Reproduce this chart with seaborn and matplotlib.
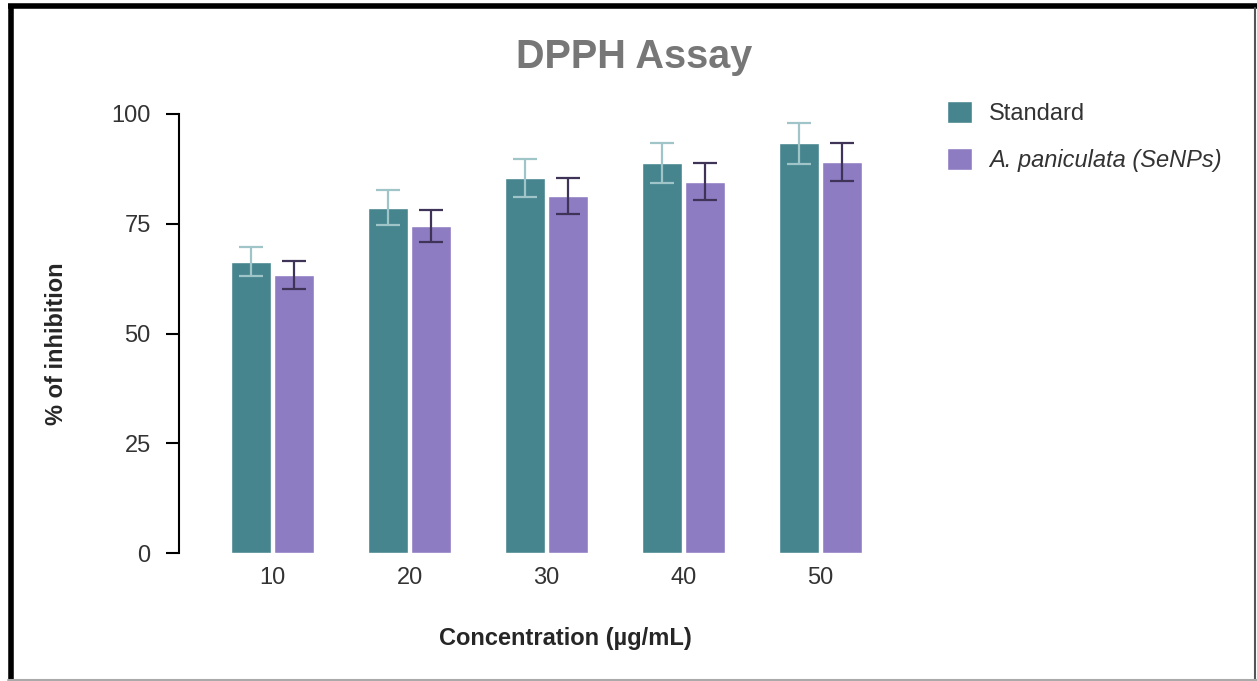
import matplotlib
matplotlib.use("Agg")
import matplotlib.pyplot as plt
from matplotlib.lines import Line2D
import pandas as pd
import seaborn as sns

# datos
concentraciones = ["10", "20", "30", "40", "50"]
muestras = ["Standard", "A. paniculata (SeNPs)"]
standard = [66.4, 78.7, 85.5, 88.8, 93.3]
standard_err = [3.4, 4.0, 4.3, 4.5, 4.6]
senps = [63.3, 74.5, 81.4, 84.6, 89.1]
senps_err = [3.2, 3.7, 4.1, 4.2, 4.4]

colores = ["#46848e", "#8e7cc3"]
colores_err = ["#9fc5c8", "#3f3358"]

df = pd.DataFrame({
    "Concentración": concentraciones * 2,
    "Inhibición": standard + senps,
    "Muestra": [muestras[0]] * 5 + [muestras[1]] * 5,
})

sns.set_theme(style="white")
plt.rcParams["font.family"] = ["Liberation Sans", "DejaVu Sans"]

fig = plt.figure(figsize=(12.57, 6.81), dpi=100)
ax = fig.add_axes([179 / 1257, 1 - 553 / 681, 735 / 1257, 439 / 681])

sns.barplot(data=df, x="Concentración", y="Inhibición", hue="Muestra",
            hue_order=muestras, palette=colores, width=0.63, gap=0.07,
            errorbar=None, saturation=1, ax=ax)

# barras de error
errores = [standard_err, senps_err]
for cont, err, ec in zip(ax.containers, errores, colores_err):
    xs = [p.get_x() + p.get_width() / 2 for p in cont.patches]
    ys = [p.get_height() for p in cont.patches]
    ax.errorbar(xs, ys, yerr=err, fmt="none", ecolor=ec, elinewidth=1.6,
                capsize=8.5, capthick=1.6, zorder=5)

handles, labels = ax.get_legend_handles_labels()
ax.get_legend().remove()
leg = fig.legend(handles, labels, loc="upper left",
                 bbox_to_anchor=(938 / 1257, 1 - 92 / 681), frameon=False,
                 fontsize=17, handlelength=1.05, handleheight=1.05,
                 handletextpad=0.7, labelspacing=0.95, borderaxespad=0)
for t in leg.get_texts():
    t.set_color("#333333")
leg.get_texts()[1].set_style("italic")

ax.set_xlim(-0.686, 4.686)
ax.set_ylim(0, 100)
ax.set_yticks([0, 25, 50, 75, 100])
sns.despine(ax=ax, bottom=True)
ax.spines["left"].set_linewidth(1.5)
ax.spines["left"].set_color("black")
ax.tick_params(axis="y", direction="out", length=9.4, width=1.5, color="black",
               left=True, labelsize=17, pad=11, labelcolor="#333333")
ax.tick_params(axis="x", length=0, labelsize=17, pad=10, labelcolor="#333333")

ax.set_xlabel("Concentration (µg/mL)", fontsize=17, fontweight="bold", va="center")
ax.xaxis.set_label_coords((565 - 179) / 735, -(638 - 553) / 439)
ax.set_ylabel("% of inhibition", fontsize=17, fontweight="bold", va="center")
ax.yaxis.set_label_coords(-(179 - 57) / 735, (553 - 344) / 439)

fig.text(634 / 1257, 1 - 57 / 681, "DPPH Assay", ha="center", va="center",
         fontsize=28.5, fontweight="bold", color="#777777")

# marco de la imagen
fig.add_artist(Line2D([8 / 1257, 1], [1 - 5.5 / 681] * 2, color="black", lw=4,
                      solid_capstyle="butt"))
fig.add_artist(Line2D([10.5 / 1257] * 2, [0, 1 - 3.5 / 681], color="black", lw=4,
                      solid_capstyle="butt"))
fig.add_artist(Line2D([1254.5 / 1257] * 2, [0, 1 - 8 / 681], color="#555555", lw=1.5))
fig.add_artist(Line2D([8 / 1257, 1], [1.2 / 681] * 2, color="#aaaaaa", lw=1.5))

fig.savefig("out.png", dpi=100)
